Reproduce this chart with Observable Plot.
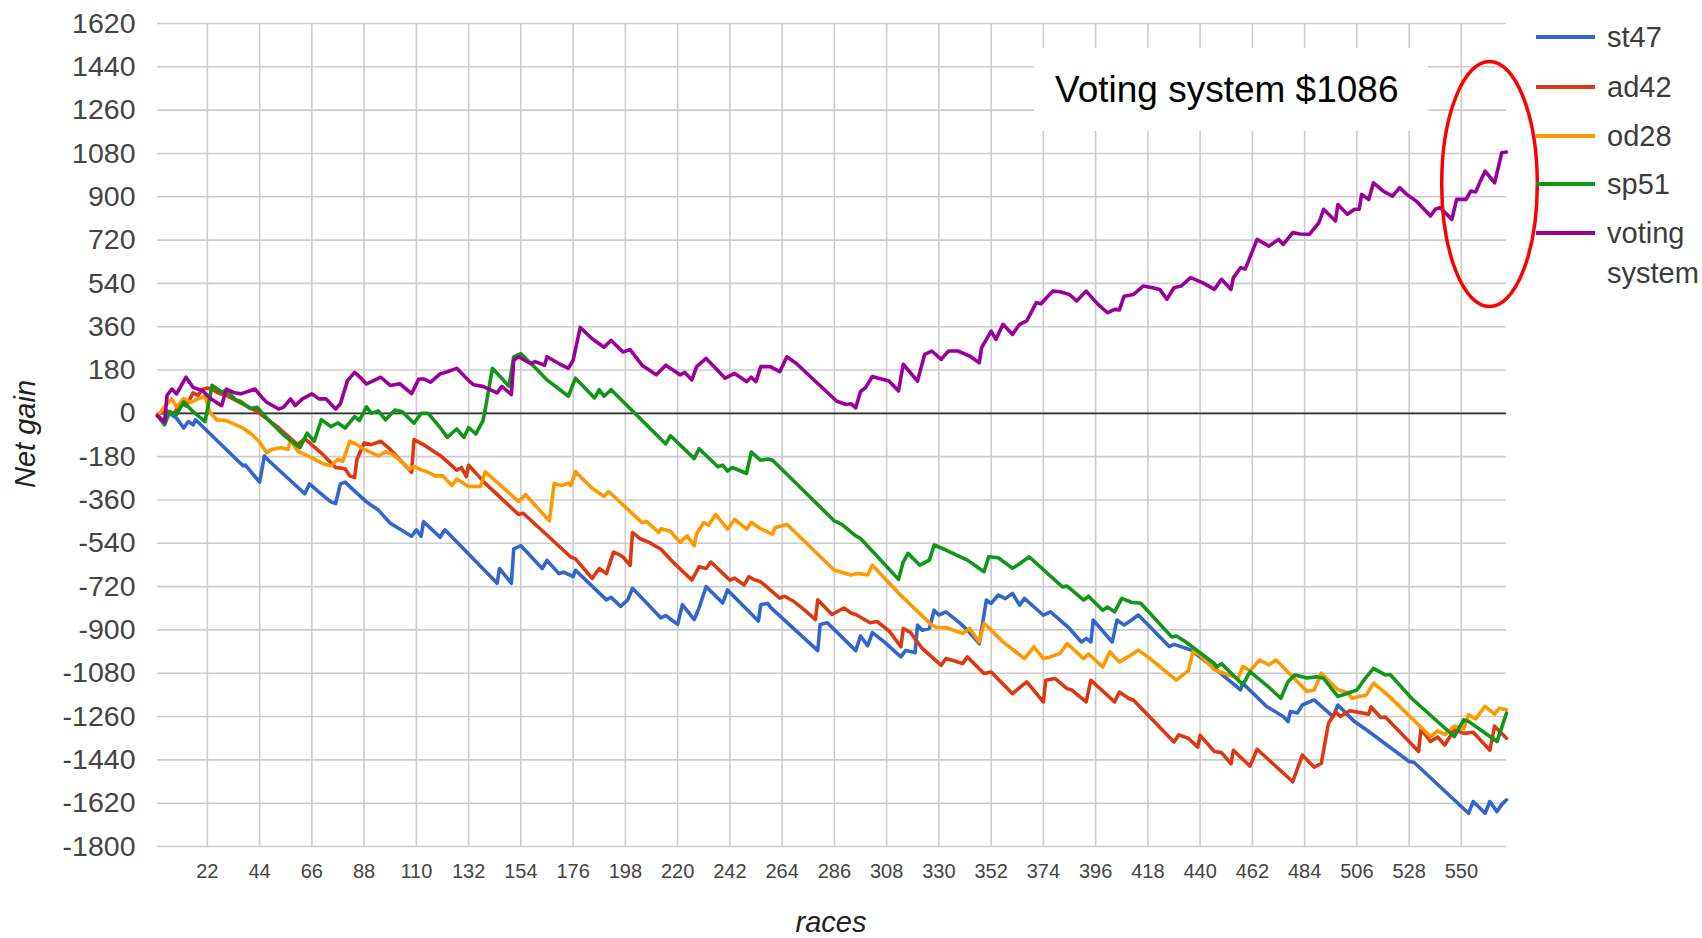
<!DOCTYPE html>
<html>
<head>
<meta charset="utf-8">
<script src="https://cdn.jsdelivr.net/npm/d3@7"></script>
<script src="https://cdn.jsdelivr.net/npm/@observablehq/plot@0.6"></script>
<style>
html,body{margin:0;padding:0;background:#fff;}
#wrap{position:relative;width:1702px;height:938px;overflow:hidden;font-family:"Liberation Sans",Arial,sans-serif;}
#chart{position:absolute;left:0;top:0;}
.ytitle{position:absolute;left:25px;top:434px;transform:translate(-50%,-50%) rotate(-90deg);font-size:29px;line-height:29px;font-style:italic;color:#222;white-space:nowrap;}
.xtitle{position:absolute;left:831px;top:909px;transform:translateX(-50%);font-size:29px;line-height:27px;font-style:italic;color:#222;white-space:nowrap;}
.note{position:absolute;left:1034px;top:48px;width:394px;height:83px;background:#fff;box-sizing:border-box;padding-left:21px;font-size:37px;line-height:83px;color:#000;white-space:nowrap;}
.leg{position:absolute;left:1536px;height:40px;}
.leg .sw{position:absolute;left:0;top:18px;width:59px;height:4px;}
.leg .tx{position:absolute;left:71px;top:0;font-size:29px;line-height:40px;color:#3c3c3c;white-space:nowrap;}
#ring{position:absolute;left:0;top:0;pointer-events:none;}
</style>
</head>
<body>
<div id="wrap"></div>
<script>
// ---- data ----
const seriesNames = ["st47", "ad42", "od28", "sp51", "voting system"];
const seriesColors = ["#3366cc", "#dc3912", "#ff9900", "#109618", "#990099"];
const xTicks = [22,44,66,88,110,132,154,176,198,220,242,264,286,308,330,352,374,396,418,440,462,484,506,528,550];
const yTicks = [-1800,-1620,-1440,-1260,-1080,-900,-720,-540,-360,-180,0,180,360,540,720,900,1080,1260,1440,1620];
const annotationText = "Voting system $1086";

// [race, net gain]
const st47 = [[1,-10],[4,-34],[6,0],[9,-20],[12,-61],[14,-34],[16,-48],[17,-27],[19,-45],[37,-218],[38,-215],[44,-286],[46,-177],[48,-198],[63,-334],[65,-293],[69,-327],[74,-368],[76,-375],[78,-293],[80,-286],[83,-314],[89,-368],[91,-382],[94,-402],[99,-457],[108,-511],[110,-484],[112,-511],[113,-450],[120,-515],[122,-484],[144,-706],[145,-645],[150,-706],[151,-563],[154,-550],[163,-645],[165,-611],[170,-666],[172,-660],[176,-679],[177,-652],[190,-775],[192,-765],[196,-802],[199,-775],[201,-727],[213,-850],[215,-840],[220,-877],[222,-795],[227,-857],[229,-809],[232,-720],[239,-788],[241,-734],[254,-863],[255,-795],[258,-790],[259,-805],[279,-986],[280,-877],[283,-870],[295,-986],[297,-925],[300,-966],[302,-911],[307,-950],[314,-1012],[316,-985],[320,-995],[321,-880],[323,-901],[326,-894],[328,-818],[330,-838],[333,-825],[339,-873],[342,-901],[347,-957],[350,-776],[352,-790],[355,-755],[358,-770],[361,-748],[364,-797],[366,-769],[374,-839],[377,-825],[385,-894],[390,-950],[392,-935],[394,-950],[395,-859],[403,-950],[405,-859],[408,-880],[411,-860],[414,-838],[427,-969],[429,-960],[436,-983],[446,-1059],[457,-1149],[458,-1122],[468,-1218],[475,-1260],[477,-1281],[478,-1239],[481,-1245],[483,-1212],[488,-1191],[496,-1260],[498,-1212],[505,-1281],[510,-1315],[528,-1447],[530,-1450],[553,-1662],[555,-1613],[560,-1662],[562,-1613],[565,-1655],[567,-1625],[569,-1606]];

const ad42 = [[1,-5],[5,10],[8,0],[11,45],[13,30],[16,85],[18,75],[20,100],[22,105],[24,100],[27,82],[30,75],[43,7],[52,-60],[60,-130],[63,-105],[70,-165],[76,-225],[80,-230],[82,-260],[84,-266],[85,-191],[88,-123],[91,-130],[95,-116],[99,-150],[108,-245],[109,-109],[113,-130],[120,-175],[127,-236],[129,-225],[131,-263],[132,-216],[139,-291],[153,-420],[155,-415],[175,-597],[177,-605],[184,-686],[187,-645],[190,-666],[193,-577],[195,-585],[197,-597],[200,-632],[201,-495],[204,-520],[208,-536],[213,-565],[218,-618],[226,-693],[229,-638],[232,-645],[234,-618],[242,-693],[244,-685],[248,-713],[250,-679],[252,-690],[255,-700],[263,-768],[265,-760],[269,-782],[274,-822],[278,-857],[279,-775],[285,-836],[290,-809],[293,-830],[295,-836],[301,-870],[304,-865],[309,-904],[314,-970],[315,-894],[318,-910],[323,-977],[331,-1047],[333,-1019],[337,-1030],[340,-1040],[342,-1012],[349,-1081],[352,-1075],[361,-1165],[364,-1140],[367,-1116],[374,-1199],[375,-1109],[379,-1102],[384,-1144],[386,-1150],[392,-1199],[394,-1109],[404,-1199],[406,-1158],[410,-1185],[412,-1192],[429,-1366],[431,-1336],[435,-1350],[439,-1387],[440,-1338],[446,-1405],[449,-1410],[453,-1456],[454,-1400],[461,-1466],[464,-1396],[470,-1450],[479,-1531],[483,-1420],[488,-1470],[491,-1455],[494,-1290],[497,-1240],[499,-1260],[503,-1236],[511,-1250],[512,-1220],[516,-1264],[518,-1262],[532,-1405],[533,-1310],[537,-1364],[540,-1345],[543,-1378],[547,-1315],[551,-1330],[555,-1325],[562,-1400],[564,-1300],[569,-1350]];

const od28 = [[1,-10],[5,40],[7,60],[9,27],[12,61],[15,45],[18,60],[21,70],[23,5],[26,-27],[30,-30],[37,-61],[41,-90],[44,-120],[47,-164],[49,-150],[53,-143],[56,-150],[57,-110],[60,-157],[65,-180],[71,-211],[74,-218],[77,-191],[79,-200],[82,-116],[85,-130],[88,-150],[94,-177],[97,-160],[100,-170],[105,-211],[107,-232],[109,-220],[112,-235],[115,-245],[118,-260],[121,-259],[125,-300],[127,-273],[132,-304],[137,-304],[139,-243],[153,-366],[156,-338],[166,-447],[168,-291],[171,-300],[174,-290],[175,-300],[177,-243],[184,-311],[189,-345],[191,-325],[205,-454],[207,-450],[212,-495],[213,-480],[217,-490],[221,-536],[224,-509],[227,-550],[228,-500],[231,-454],[233,-465],[236,-420],[241,-481],[244,-441],[249,-481],[251,-454],[255,-480],[260,-502],[261,-475],[266,-461],[286,-652],[289,-660],[293,-672],[296,-665],[300,-672],[302,-631],[313,-747],[327,-880],[329,-890],[333,-890],[338,-908],[340,-915],[343,-894],[347,-950],[349,-873],[352,-900],[357,-950],[366,-1019],[370,-970],[374,-1019],[376,-1015],[381,-998],[384,-957],[391,-1019],[393,-1000],[399,-1054],[402,-991],[406,-1033],[410,-1010],[414,-984],[419,-1020],[430,-1109],[433,-1085],[435,-1070],[437,-990],[440,-1005],[446,-1066],[456,-1101],[458,-1052],[461,-1070],[465,-1025],[469,-1045],[472,-1025],[485,-1156],[488,-1150],[491,-1080],[498,-1149],[502,-1160],[504,-1184],[507,-1177],[510,-1170],[513,-1121],[519,-1170],[537,-1343],[540,-1320],[543,-1335],[547,-1300],[551,-1310],[553,-1253],[556,-1270],[560,-1218],[564,-1250],[566,-1225],[569,-1232]];

const sp51 = [[1,-10],[4,-48],[6,7],[9,-5],[12,48],[16,7],[21,-34],[24,116],[28,89],[30,95],[34,55],[36,50],[40,20],[43,25],[47,-20],[54,-89],[61,-143],[64,-82],[67,-116],[70,-27],[74,-55],[77,-40],[80,-61],[84,-14],[86,-30],[89,27],[91,0],[94,10],[97,-27],[101,14],[104,7],[109,-41],[112,0],[115,0],[120,-59],[123,-100],[127,-65],[130,-100],[132,-59],[135,-86],[138,-31],[139,16],[142,187],[149,112],[151,235],[154,248],[161,180],[165,139],[174,71],[177,146],[185,64],[187,98],[189,71],[192,98],[215,-127],[217,-93],[227,-188],[229,-147],[237,-222],[239,-215],[241,-240],[243,-225],[249,-250],[251,-161],[255,-195],[258,-190],[260,-195],[286,-447],[289,-460],[295,-509],[297,-520],[305,-604],[313,-690],[315,-617],[317,-582],[322,-631],[326,-610],[328,-547],[333,-568],[342,-610],[349,-658],[351,-596],[355,-600],[361,-644],[364,-625],[368,-596],[382,-721],[384,-718],[391,-776],[393,-760],[399,-818],[401,-805],[404,-825],[407,-769],[411,-785],[415,-789],[428,-929],[430,-925],[434,-950],[446,-1040],[447,-1054],[449,-1040],[458,-1128],[461,-1073],[468,-1130],[474,-1184],[477,-1115],[480,-1087],[485,-1100],[489,-1095],[492,-1101],[498,-1177],[503,-1160],[506,-1150],[509,-1108],[513,-1060],[518,-1087],[520,-1085],[529,-1184],[547,-1343],[551,-1274],[553,-1280],[558,-1315],[565,-1364],[569,-1246]];

const votingSystem = [[1,-10],[4,-37],[5,74],[7,101],[9,81],[13,150],[16,108],[20,94],[23,64],[28,32],[30,101],[33,87],[36,81],[40,94],[42,101],[45,66],[47,46],[52,18],[54,25],[57,60],[59,32],[62,60],[66,81],[69,60],[72,60],[76,18],[78,40],[81,136],[84,170],[87,143],[89,122],[92,136],[95,150],[99,116],[103,123],[108,82],[111,143],[113,143],[116,130],[120,164],[123,173],[127,187],[132,136],[134,119],[138,112],[144,85],[146,112],[150,78],[151,221],[153,235],[158,207],[160,215],[164,200],[165,235],[170,207],[174,187],[176,221],[179,357],[184,310],[189,275],[192,303],[197,255],[200,265],[205,200],[211,160],[215,200],[221,160],[223,170],[226,139],[228,194],[232,228],[236,187],[240,146],[244,166],[249,132],[251,150],[253,132],[255,194],[259,194],[263,173],[266,235],[270,207],[287,50],[291,37],[293,40],[295,23],[297,91],[299,105],[302,153],[305,145],[309,134],[313,93],[315,204],[321,134],[324,245],[327,259],[331,224],[334,259],[338,259],[343,238],[347,210],[348,273],[352,342],[354,307],[357,370],[361,328],[364,370],[367,384],[371,460],[373,455],[378,508],[381,505],[385,494],[388,467],[392,508],[397,453],[401,418],[404,432],[406,430],[408,487],[412,494],[416,529],[420,522],[423,515],[426,474],[429,522],[432,529],[436,564],[441,543],[446,515],[449,557],[453,515],[454,564],[457,605],[459,600],[464,723],[469,695],[473,723],[475,702],[479,751],[482,745],[486,744],[490,792],[492,848],[497,799],[498,868],[502,827],[505,848],[507,848],[508,910],[511,889],[513,958],[517,924],[521,903],[524,938],[527,910],[531,882],[537,820],[539,848],[541,855],[546,806],[548,889],[552,889],[554,924],[556,920],[558,965],[560,1007],[564,958],[567,1083],[569,1086]];

// ---- build ----
const allSeries = [st47, ad42, od28, sp51, votingSystem];
const tables = allSeries.map((arr, i) => arr.map(([race, net]) => ({race, net, series: seriesNames[i]})));

const chart = Plot.plot({
  width: 1702,
  height: 938,
  marginTop: 23,
  marginBottom: 92,
  marginLeft: 157,
  marginRight: 196,
  style: {fontFamily: '"Liberation Sans", Arial, sans-serif', color: "#444", background: "transparent"},
  x: {type: "linear", domain: [1, 569]},
  y: {type: "linear", domain: [-1800, 1620]},
  marks: [
    Plot.gridX(xTicks, {stroke: "#cccccc", strokeOpacity: 1, strokeWidth: 1.6}),
    Plot.gridY(yTicks, {stroke: "#cccccc", strokeOpacity: 1, strokeWidth: 1.6}),
    Plot.ruleY([0], {stroke: "#333", strokeWidth: 1.6}),
    ...tables.map((t, i) => Plot.line(t, {x: "race", y: "net", stroke: seriesColors[i], strokeWidth: 3.6})),
    Plot.axisX(xTicks, {tickSize: 0, tickPadding: 17, fontSize: 20, label: null, tickFormat: d => String(d)}),
    Plot.axisY(yTicks, {tickSize: 0, tickPadding: 22, fontSize: 28.5, label: null, tickFormat: d => String(d)})
  ]
});
chart.id = "chart";

const wrap = document.getElementById("wrap");
wrap.appendChild(chart);

// axis titles
const yt = document.createElement("div"); yt.className = "ytitle"; yt.textContent = "Net gain"; wrap.appendChild(yt);
const xt = document.createElement("div"); xt.className = "xtitle"; xt.textContent = "races"; wrap.appendChild(xt);

// annotation
const note = document.createElement("div"); note.className = "note"; note.textContent = annotationText; wrap.appendChild(note);

// highlight ring
const ns = "http://www.w3.org/2000/svg";
const ring = document.createElementNS(ns, "svg");
ring.setAttribute("id", "ring"); ring.setAttribute("width", 1702); ring.setAttribute("height", 938);
const el = document.createElementNS(ns, "ellipse");
el.setAttribute("cx", 1489.5); el.setAttribute("cy", 184); el.setAttribute("rx", 47.8); el.setAttribute("ry", 122.5);
el.setAttribute("fill", "none"); el.setAttribute("stroke", "#ff0000"); el.setAttribute("stroke-width", 3.5);
ring.appendChild(el); wrap.appendChild(ring);

// legend
const legCenters = [37, 87, 136, 184, 233];
seriesNames.forEach((name, i) => {
  const item = document.createElement("div");
  item.className = "leg";
  item.style.top = (legCenters[i] - 20) + "px";
  const sw = document.createElement("div"); sw.className = "sw"; sw.style.background = seriesColors[i];
  const tx = document.createElement("div"); tx.className = "tx";
  if (name === "voting system") tx.innerHTML = "voting<br>system"; else tx.textContent = name;
  item.appendChild(sw); item.appendChild(tx);
  wrap.appendChild(item);
});
</script>
</body>
</html>
